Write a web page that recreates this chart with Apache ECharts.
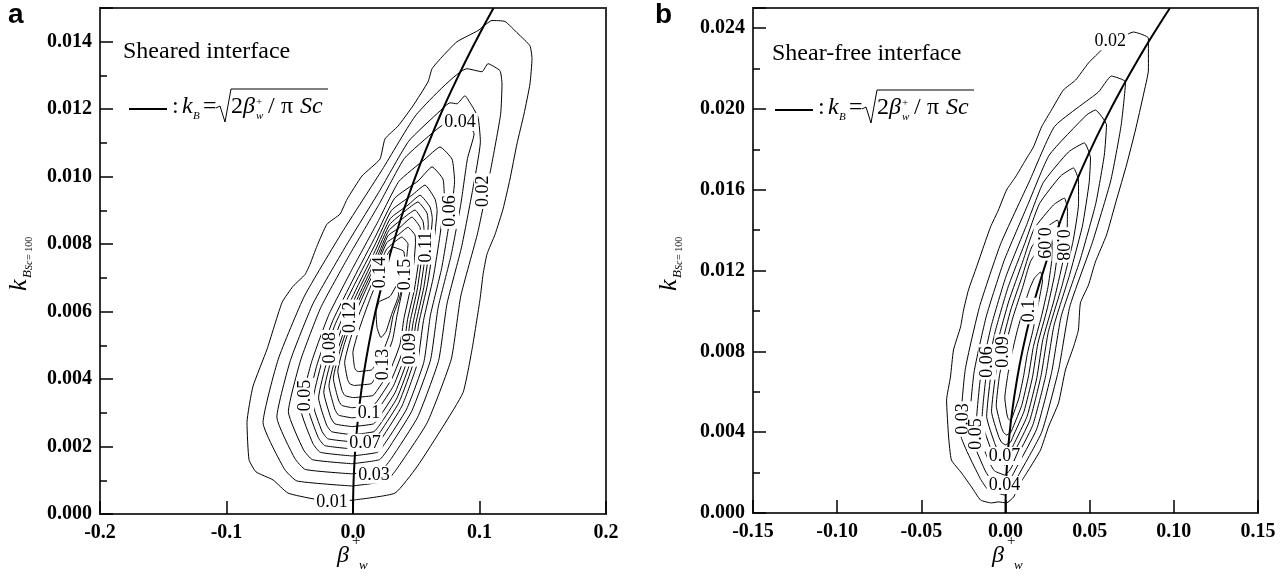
<!DOCTYPE html>
<html><head><meta charset="utf-8">
<script src="https://cdn.jsdelivr.net/npm/echarts/dist/echarts.min.js"></script>
<style>html,body{margin:0;padding:0;background:#fff}#c{width:1287px;height:579px}</style>
</head><body><div id="c"></div>
<script>
// ---------- Panel a (sheared interface) ----------
const aXMin=-0.2, aXMax=0.2, aXStep=0.1;
const aXTickLabels=['-0.2','-0.1','0.0','0.1','0.2'];
const aYMin=0, aYMax=0.015, aYStep=0.002, aYMinorStep=0.001;
const aYTickLabels=['0.000','0.002','0.004','0.006','0.008','0.010','0.012','0.014'];
const aLevels=[0.01,0.02,0.03,0.04,0.05,0.06,0.07,0.08,0.09,0.10,0.11,0.12,0.13,0.14,0.15];
const a01=[[0.0016,0.00042],[0.0332,0.00062],[0.0506,0.0014],[0.0711,0.00259],[0.087,0.0036],[0.0941,0.00488],[0.1004,0.00636],[0.1028,0.0071],[0.1059,0.0077],[0.1123,0.00829],[0.1186,0.00904],[0.1241,0.00993],[0.1296,0.01097],[0.1352,0.01186],[0.1399,0.01275],[0.1415,0.0135],[0.1399,0.01388],[0.1304,0.01424],[0.1202,0.0146],[0.1099,0.01463],[0.0988,0.01433],[0.0822,0.014],[0.0711,0.01358],[0.0625,0.0132],[0.0593,0.01281],[0.0474,0.0121],[0.0356,0.0115],[0.0253,0.01112],[0.0213,0.01052],[0.0071,0.01002],[-0.0047,0.00933],[-0.0103,0.00889],[-0.0206,0.00859],[-0.0285,0.00794],[-0.034,0.0074],[-0.0379,0.0071],[-0.0474,0.00675],[-0.0561,0.00627],[-0.068,0.00488],[-0.0791,0.00378],[-0.0838,0.00271],[-0.0822,0.00161],[-0.0767,0.00125],[-0.0632,0.00101],[-0.0514,0.00062],[-0.0316,0.00045],[-0.0142,0.00036],[0.0016,0.00042]];
const a02=[[-0.0008,0.00083],[0.0264,0.00098],[0.0345,0.00133],[0.0587,0.00271],[0.0777,0.00459],[0.0852,0.00646],[0.0986,0.00834],[0.1089,0.01022],[0.1167,0.01185],[0.1178,0.01275],[0.1162,0.01314],[0.1067,0.01335],[0.102,0.01311],[0.0901,0.0132],[0.0503,0.01185],[0.0233,0.01022],[-0.0088,0.00834],[-0.0384,0.00646],[-0.0591,0.00459],[-0.0711,0.00271],[-0.0542,0.00133],[-0.0444,0.00098],[-0.0008,0.00083]];
const a03=[[-0.0008,0.00119],[0.023,0.00132],[0.0302,0.00164],[0.0511,0.00287],[0.0677,0.00455],[0.0743,0.00623],[0.0858,0.00791],[0.0945,0.00959],[0.1007,0.01105],[0.0988,0.01177],[0.0925,0.01219],[0.0885,0.0124],[0.0822,0.01216],[0.0767,0.01219],[0.0688,0.01195],[0.044,0.01105],[0.0212,0.00959],[-0.0062,0.00791],[-0.0317,0.00623],[-0.0495,0.00455],[-0.0602,0.00287],[-0.0459,0.00164],[-0.0377,0.00132],[-0.0008,0.00119]];
const a04=[[-0.0008,0.00149],[0.0209,0.00161],[0.0273,0.0019],[0.0462,0.00303],[0.0613,0.00457],[0.0673,0.00612],[0.0775,0.00766],[0.0853,0.0092],[0.0905,0.01054],[0.0957,0.01127],[0.0885,0.01165],[0.0767,0.01165],[0.0648,0.01136],[0.0406,0.01054],[0.0209,0.0092],[-0.0031,0.00766],[-0.0255,0.00612],[-0.0413,0.00457],[-0.0511,0.00303],[-0.0391,0.0019],[-0.032,0.00161],[-0.0008,0.00149]];
const a05=[[-0.0008,0.00172],[0.0194,0.00183],[0.0252,0.00209],[0.0424,0.00311],[0.056,0.0045],[0.0612,0.00589],[0.07,0.00727],[0.0762,0.00866],[0.0803,0.00986],[0.0783,0.01052],[0.0688,0.01088],[0.0569,0.01052],[0.0363,0.00986],[0.0196,0.00866],[-0.0005,0.00727],[-0.0193,0.00589],[-0.0328,0.0045],[-0.0413,0.00311],[-0.0317,0.00209],[-0.0259,0.00183],[-0.0008,0.00172]];
const a06=[[-0.0008,0.00193],[0.0179,0.00203],[0.0232,0.00227],[0.0387,0.0032],[0.0509,0.00447],[0.0557,0.00573],[0.0634,0.007],[0.0688,0.00827],[0.0722,0.00936],[0.0711,0.00993],[0.0625,0.01029],[0.0514,0.00987],[0.0329,0.00936],[0.0183,0.00827],[0.0007,0.007],[-0.016,0.00573],[-0.0281,0.00447],[-0.0358,0.0032],[-0.0275,0.00227],[-0.0225,0.00203],[-0.0008,0.00193]];
const a07=[[-0.0008,0.00214],[0.0171,0.00223],[0.0219,0.00245],[0.0364,0.00331],[0.0477,0.00448],[0.052,0.00565],[0.0589,0.00681],[0.0636,0.00798],[0.0665,0.009],[0.0648,0.00934],[0.0569,0.00975],[0.0466,0.00945],[0.0304,0.009],[0.0174,0.00798],[0.0013,0.00681],[-0.0138,0.00565],[-0.0248,0.00448],[-0.0319,0.00331],[-0.0245,0.00245],[-0.0199,0.00223],[-0.0008,0.00214]];
const a08=[[-0.0008,0.00235],[0.0165,0.00244],[0.0211,0.00264],[0.0348,0.00344],[0.0455,0.00453],[0.0496,0.00563],[0.056,0.00672],[0.0602,0.00781],[0.0627,0.00876],[0.0609,0.0091],[0.053,0.00945],[0.0435,0.00916],[0.0295,0.00876],[0.0176,0.00781],[0.0032,0.00672],[-0.0104,0.00563],[-0.0206,0.00453],[-0.0272,0.00344],[-0.0209,0.00264],[-0.0169,0.00244],[-0.0008,0.00235]];
const a09=[[-0.0008,0.00259],[0.0161,0.00267],[0.0206,0.00286],[0.0334,0.00361],[0.0435,0.00463],[0.0474,0.00565],[0.0533,0.00667],[0.0572,0.00769],[0.0595,0.00858],[0.0585,0.00892],[0.0514,0.00925],[0.0411,0.00898],[0.0289,0.00858],[0.0181,0.00769],[0.0049,0.00667],[-0.0075,0.00565],[-0.0168,0.00463],[-0.0231,0.00361],[-0.0176,0.00286],[-0.0142,0.00267],[-0.0008,0.00259]];
const a10=[[-0.0008,0.00285],[0.016,0.00293],[0.02,0.00311],[0.032,0.0038],[0.0416,0.00475],[0.0451,0.00569],[0.0507,0.00664],[0.0543,0.00758],[0.0562,0.0084],[0.0553,0.00868],[0.049,0.00901],[0.0387,0.00874],[0.0282,0.0084],[0.0186,0.00758],[0.0066,0.00664],[-0.0046,0.00569],[-0.013,0.00475],[-0.019,0.0038],[-0.0144,0.00311],[-0.0114,0.00293],[-0.0008,0.00285]];
const a11=[[-0.0008,0.00315],[0.016,0.00322],[0.0198,0.00338],[0.0308,0.00402],[0.0398,0.00489],[0.0431,0.00576],[0.0484,0.00663],[0.0519,0.0075],[0.0533,0.00825],[0.053,0.0085],[0.0466,0.0088],[0.0372,0.0085],[0.0277,0.00825],[0.0192,0.0075],[0.0082,0.00663],[-0.0022,0.00576],[-0.01,0.00489],[-0.0155,0.00402],[-0.0115,0.00338],[-0.0089,0.00322],[-0.0008,0.00315]];
const a12=[[0,0.00345],[0.0157,0.00351],[0.019,0.00366],[0.029,0.00423],[0.0371,0.00502],[0.0403,0.0058],[0.0449,0.00659],[0.0479,0.00737],[0.0494,0.00805],[0.049,0.00827],[0.0435,0.0085],[0.0356,0.00827],[0.0268,0.00805],[0.019,0.00737],[0.0094,0.00659],[0.0002,0.0058],[-0.007,0.00502],[-0.012,0.00423],[-0.0087,0.00366],[-0.0063,0.00351],[0,0.00345]];
const a13=[[0.0008,0.00381],[0.0143,0.00386],[0.0168,0.00399],[0.0247,0.00449],[0.0314,0.00518],[0.0347,0.00587],[0.0385,0.00655],[0.0413,0.00724],[0.0431,0.00783],[0.0435,0.008],[0.0387,0.00821],[0.0316,0.00803],[0.0262,0.00783],[0.0197,0.00724],[0.0117,0.00655],[0.0043,0.00587],[-0.0021,0.00518],[-0.0066,0.00449],[-0.0043,0.00399],[-0.0025,0.00386],[0.0008,0.00381]];
const a14=[[0.004,0.00422],[0.0146,0.00427],[0.0168,0.00437],[0.0233,0.00478],[0.0289,0.00533],[0.0317,0.00588],[0.037,0.00643],[0.0395,0.00699],[0.041,0.00747],[0.040,0.00779],[0.0316,0.00791],[0.0277,0.00773],[0.0252,0.00747],[0.02,0.00699],[0.014,0.00643],[0.0086,0.00588],[0.0036,0.00533],[-0.0001,0.00478],[0.0011,0.00437],[0.0021,0.00427],[0.004,0.00422]];
const a15=[[0.0206,0.0063],[0.0292,0.00645],[0.035,0.0068],[0.036,0.0065],[0.0308,0.00595],[0.0261,0.00541],[0.0221,0.00523],[0.019,0.00553],[0.0182,0.00601],[0.0206,0.0063]];
const aContours=[a01,a02,a03,a04,a05,a06,a07,a08,a09,a10,a11,a12,a13,a14,a15];
const aCurve=[[0,0],[0.0001,0.00045],[0.0005,0.00101],[0.001,0.00142],[0.002,0.00201],[0.004,0.00285],[0.007,0.00377],[0.01,0.0045],[0.015,0.00551],[0.02,0.00636],[0.03,0.00779],[0.04,0.009],[0.05,0.01006],[0.06,0.01102],[0.07,0.01191],[0.08,0.01273],[0.09,0.0135],[0.1,0.01423],[0.111,0.01499]];
const aLabelTexts=['0.01','0.02','0.03','0.04','0.05','0.06','0.07','0.08','0.09','0.1','0.11','0.12','0.13','0.14','0.15'];
const aLabelPos=[[-0.0166,0.00036],[0.1028,0.00957],[0.0166,0.00116],[0.0846,0.01162],[-0.0379,0.00351],[0.0767,0.00898],[0.0095,0.00211],[-0.0182,0.00493],[0.0451,0.0049],[0.0126,0.003],[0.0577,0.00791],[-0.0024,0.00583],[0.0237,0.00443],[0.0213,0.00716],[0.0411,0.0071]];
const aLabelRot=[0,90,0,0,90,90,0,90,90,0,90,90,90,90,90];

// ---------- Panel b (shear-free interface) ----------
const bXMin=-0.15, bXMax=0.15, bXStep=0.05;
const bXTickLabels=['-0.15','-0.10','-0.05','0.00','0.05','0.10','0.15'];
const bYMin=0, bYMax=0.025, bYStep=0.004, bYMinorStep=0.002;
const bYTickLabels=['0.000','0.004','0.008','0.012','0.016','0.020','0.024'];
const bLevels=[0.02,0.03,0.04,0.05,0.06,0.07,0.08,0.09,0.10];
const b01=[[0.057,0.02292],[0.0659,0.02341],[0.076,0.02381],[0.0849,0.02351],[0.0849,0.02193],[0.0819,0.02069],[0.0772,0.01896],[0.0719,0.01723],[0.0659,0.01549],[0.06,0.01376],[0.0534,0.01243],[0.0493,0.01129],[0.0445,0.0104],[0.0433,0.00906],[0.0404,0.00822],[0.0356,0.00708],[0.0315,0.00545],[0.0255,0.00426],[0.0208,0.00312],[0.0137,0.00213],[0.0089,0.00149],[0.0048,0.00079],[0.0006,0.0005],[-0.0042,0.00055],[-0.0083,0.0005],[-0.0148,0.00064],[-0.0202,0.00129],[-0.0261,0.00198],[-0.0321,0.00262],[-0.0338,0.00376],[-0.035,0.00559],[-0.0327,0.00673],[-0.0309,0.00807],[-0.0267,0.00921],[-0.0249,0.01005],[-0.022,0.01104],[-0.0172,0.01218],[-0.0131,0.01317],[-0.0089,0.01416],[-0.0042,0.015],[0.0006,0.01599],[0.0059,0.01663],[0.0119,0.01747],[0.0166,0.01812],[0.0214,0.01911],[0.0273,0.01995],[0.0344,0.02094],[0.0416,0.02143],[0.0493,0.02228],[0.057,0.02292]];
const b02=[[-0.0006,0.00089],[0.0026,0.00114],[0.0067,0.00172],[0.0215,0.004],[0.0316,0.00711],[0.0382,0.01022],[0.0514,0.01334],[0.0625,0.01644],[0.0686,0.01914],[0.0713,0.02134],[0.0629,0.02163],[0.0552,0.02084],[0.0292,0.01914],[0.0143,0.01644],[-0.0028,0.01334],[-0.0154,0.01022],[-0.0239,0.00711],[-0.027,0.004],[-0.0151,0.00172],[-0.0102,0.00114],[-0.0006,0.00089]];
const b03=[[-0.0006,0.00139],[0.0024,0.00161],[0.0058,0.00213],[0.0186,0.00417],[0.0274,0.00696],[0.0331,0.00974],[0.0443,0.01252],[0.0536,0.01531],[0.0587,0.01772],[0.06,0.01921],[0.0534,0.01995],[0.0481,0.0197],[0.026,0.01772],[0.0135,0.01531],[-0.0007,0.01252],[-0.0114,0.00974],[-0.0187,0.00696],[-0.0216,0.00417],[-0.0123,0.00213],[-0.0082,0.00161],[-0.0006,0.00139]];
const b04=[[-0.0006,0.00188],[0.0023,0.00208],[0.0053,0.00254],[0.0162,0.00435],[0.0239,0.00681],[0.0288,0.00928],[0.0379,0.01174],[0.0457,0.01421],[0.0497,0.01635],[0.0505,0.01757],[0.0469,0.01832],[0.0374,0.01787],[0.0224,0.01635],[0.0123,0.01421],[0.0004,0.01174],[-0.0084,0.00928],[-0.0147,0.00681],[-0.0174,0.00435],[-0.0098,0.00254],[-0.0065,0.00208],[-0.0006,0.00188]];
const b05=[[-0.0006,0.00238],[0.0024,0.00255],[0.005,0.00297],[0.0144,0.00458],[0.0211,0.00679],[0.0255,0.00899],[0.0334,0.0112],[0.04,0.0134],[0.0434,0.01532],[0.0433,0.01648],[0.0404,0.01708],[0.0327,0.01668],[0.0202,0.01532],[0.0117,0.0134],[0.0016,0.0112],[-0.0061,0.00899],[-0.0115,0.00679],[-0.014,0.00458],[-0.0078,0.00297],[-0.0051,0.00255],[-0.0006,0.00238]];
const b06=[[-0.0006,0.00287],[0.0026,0.00302],[0.0048,0.00338],[0.0128,0.00478],[0.0186,0.00669],[0.0222,0.00859],[0.0287,0.0105],[0.034,0.01241],[0.0366,0.01407],[0.0368,0.015],[0.035,0.01559],[0.0285,0.01525],[0.017,0.01407],[0.0101,0.01241],[0.002,0.0105],[-0.0043,0.00859],[-0.0089,0.00669],[-0.0112,0.00478],[-0.0061,0.00338],[-0.0038,0.00302],[-0.0006,0.00287]];
const b07=[[0,0.00337],[0.0029,0.0035],[0.0046,0.00381],[0.011,0.00503],[0.016,0.00671],[0.0192,0.00838],[0.0246,0.01005],[0.029,0.01172],[0.0314,0.01317],[0.0321,0.01401],[0.0309,0.0145],[0.0255,0.01421],[0.0156,0.01317],[0.0099,0.01172],[0.0031,0.01005],[-0.0021,0.00838],[-0.0061,0.00671],[-0.0083,0.00503],[-0.0042,0.00381],[-0.0024,0.0035],[0,0.00337]];
const b08=[[0.0006,0.00386],[0.0031,0.00398],[0.0045,0.00425],[0.0096,0.00532],[0.0137,0.00679],[0.0166,0.00825],[0.0213,0.00971],[0.0252,0.01117],[0.0274,0.01244],[0.0279,0.01312],[0.0261,0.01361],[0.0214,0.01327],[0.0148,0.01244],[0.0102,0.01117],[0.0045,0.00971],[-0.0001,0.00825],[-0.0036,0.00679],[-0.0055,0.00532],[-0.0025,0.00425],[-0.0011,0.00398],[0.0006,0.00386]];
const b09=[[0.0024,0.0046],[0.0038,0.00469],[0.0047,0.0049],[0.008,0.0057],[0.0108,0.0068],[0.013,0.0079],[0.0162,0.009],[0.0189,0.0101],[0.0211,0.01105],[0.022,0.01153],[0.0208,0.01193],[0.0172,0.01163],[0.0141,0.01105],[0.0106,0.0101],[0.0069,0.009],[0.0038,0.0079],[0.0013,0.0068],[-0.0004,0.0057],[0.0008,0.0049],[0.0015,0.00469],[0.0024,0.0046]];
const bContours=[b01,b02,b03,b04,b05,b06,b07,b08,b09];
const bCurve=[[0,0],[0.0001,0.0008],[0.0005,0.00179],[0.001,0.00253],[0.002,0.00358],[0.004,0.00506],[0.007,0.00669],[0.01,0.008],[0.015,0.0098],[0.02,0.01131],[0.03,0.01386],[0.04,0.016],[0.05,0.01789],[0.06,0.0196],[0.07,0.02117],[0.08,0.02263],[0.09,0.024],[0.0976,0.02499]];
const bLabelTexts=['0.02','0.03','0.04','0.05','0.06','0.07','0.08','0.09','0.09','0.1'];
const bLabelPos=[[0.0623,0.02336],[-0.0249,0.00465],[-0.0006,0.00139],[-0.0172,0.00391],[-0.0107,0.00748],[-0.0006,0.00282],[0.0333,0.01327],[-0.0012,0.00797],[0.022,0.01337],[0.0143,0.0100]];
const bLabelRot=[0,90,0,90,90,0,-90,90,-90,90];

// ---------- build ----------
const SERIF='"Liberation Serif","Times New Roman",Times,serif';
const SANS='"Liberation Sans",Arial,Helvetica,sans-serif';
const FRAME='#333';

function tickFmt(labels,min,step){
  return function(v){
    const i=(v-min)/step, r=Math.round(i);
    if(Math.abs(i-r)>1e-6) return '';
    return labels[r]!==undefined?labels[r]:'';
  };
}
function mainAxis(gi,min,max,step,labels,isY){
  return {type:'value',gridIndex:gi,min:min,max:max,interval:step,position:isY?'left':'bottom',
    axisLine:{show:true,onZero:false,lineStyle:{color:FRAME,width:2}},
    axisTick:{show:true,inside:true,length:13,lineStyle:{color:'#000',width:1.5}},
    splitLine:{show:false},
    axisLabel:{show:true,margin:isY?8:9,color:'#000',fontFamily:SERIF,fontSize:20,fontWeight:'bold',
      formatter:tickFmt(labels,min,step)}};
}
function minorAxis(gi,min,max,step){
  return {type:'value',gridIndex:gi,min:min,max:max,interval:step,position:'left',offset:0,
    axisLine:{show:false,onZero:false},
    axisTick:{show:true,inside:true,length:7,lineStyle:{color:'#000',width:1.5}},
    splitLine:{show:false},axisLabel:{show:false}};
}
const series=[];
function addContours(list,xi,yi){
  list.forEach(function(pts){
    series.push({type:'line',xAxisIndex:xi,yAxisIndex:yi,data:pts,symbol:'none',showSymbol:false,
      smooth:0.15,lineStyle:{color:'#000',width:1},silent:true,z:2,clip:true});
  });
}
addContours(aContours,0,0);
addContours(bContours,1,2);
series.push({type:'line',xAxisIndex:0,yAxisIndex:0,data:aCurve,symbol:'none',smooth:true,lineStyle:{color:'#000',width:2},silent:true,z:3,clip:true});
series.push({type:'line',xAxisIndex:1,yAxisIndex:2,data:bCurve,symbol:'none',smooth:true,lineStyle:{color:'#000',width:2},silent:true,z:3,clip:true});
function addLabels(texts,pos,rot,xi,yi){
  series.push({type:'scatter',xAxisIndex:xi,yAxisIndex:yi,symbolSize:0,silent:true,z:10,
    itemStyle:{color:'#000',opacity:1},
    data:texts.map(function(t,i){return {name:t,value:[pos[i][0],pos[i][1]],label:{rotate:rot[i]}};}),
    label:{show:true,position:'inside',formatter:function(p){return p.name;},fontFamily:SERIF,fontSize:18,
      color:'#000',opacity:1,textBorderWidth:0,textShadowBlur:0,backgroundColor:'#fff',padding:[0,2],lineHeight:18}});
}
addLabels(aLabelTexts,aLabelPos,aLabelRot,0,0);
addLabels(bLabelTexts,bLabelPos,bLabelRot,1,2);

function txt(x,y,text,font,extra){
  return {type:'text',x:x,y:y,z:100,silent:true,style:Object.assign({text:text,font:font,fill:'#000',
    align:'left',textAlign:'left',verticalAlign:'middle',textVerticalAlign:'middle'},extra||{})};
}
function formula(dx,dy){
  const f24=' 24px '+SERIF, f11=' 11px '+SERIF, yb=106.8;
  return [
    {type:'line',z:100,silent:true,shape:{x1:129+dx,y1:109+dy,x2:167+dx,y2:109+dy},style:{stroke:'#000',lineWidth:2}},
    txt(172+dx,yb+dy,':','normal'+f24),
    txt(182+dx,yb+dy,'k','italic'+f24),
    txt(193+dx,116+dy,'B','italic'+f11),
    txt(203+dx,yb+dy,'=','normal'+f24),
    {type:'polyline',z:100,silent:true,shape:{points:[[216+dx,108+dy],[220+dx,106+dy],[225+dx,122+dy],[231+dx,89+dy],[328+dx,89+dy]]},style:{stroke:'#000',lineWidth:1,fill:null}},
    txt(231+dx,yb+dy,'2','normal'+f24),
    txt(243+dx,yb+dy,'β','italic'+f24),
    txt(256+dx,102+dy,'+','normal'+f11),
    txt(256+dx,116+dy,'w','italic'+f11),
    txt(268+dx,yb+dy,'/','normal'+f24),
    txt(281+dx,yb+dy,'π','normal'+f24),
    txt(300+dx,yb+dy,'Sc','italic'+f24)
  ];
}
function yName(X,Y){
  return {type:'group',x:X,y:Y,rotation:Math.PI/2,z:100,silent:true,children:[
    txt(0,-8.8,'k','italic 26px '+SERIF),
    txt(13,-0.4,'B','italic 13px '+SERIF),
    txt(21,1.6,'Sc','italic 10px '+SERIF),
    txt(31,1.6,'= 100','normal 10px '+SERIF)
  ]};
}
function xName(X){
  return [
    txt(X,556,'β','italic 24px '+SERIF),
    txt(X+15,541,'+','normal 15px '+SERIF),
    txt(X+22,566,'w','italic 13px '+SERIF)
  ];
}
const graphic=[].concat(
  [txt(8,15.5,'a','bold 28px '+SANS), txt(655,15.5,'b','bold 28px '+SANS),
   txt(123,51.8,'Sheared interface','normal 24px '+SERIF),
   txt(772,53.8,'Shear-free interface','normal 24px '+SERIF),
   yName(28,291), yName(678,291)],
  formula(0,0), formula(646,1), xName(337), xName(992)
);

const chart=echarts.init(document.getElementById('c'),null,{renderer:'canvas',width:1287,height:579});
chart.setOption({
  animation:false,backgroundColor:'#fff',
  grid:[{left:100,top:8,width:506,height:506,show:true,borderColor:FRAME,borderWidth:2,backgroundColor:'transparent'},
        {left:753,top:8,width:505,height:505,show:true,borderColor:FRAME,borderWidth:2,backgroundColor:'transparent'}],
  xAxis:[mainAxis(0,aXMin,aXMax,aXStep,aXTickLabels,false),mainAxis(1,bXMin,bXMax,bXStep,bXTickLabels,false)],
  yAxis:[mainAxis(0,aYMin,aYMax,aYStep,aYTickLabels,true),minorAxis(0,aYMin,aYMax,aYMinorStep),
         mainAxis(1,bYMin,bYMax,bYStep,bYTickLabels,true),minorAxis(1,bYMin,bYMax,bYMinorStep)],
  series:series,
  graphic:graphic
});
</script></body></html>
